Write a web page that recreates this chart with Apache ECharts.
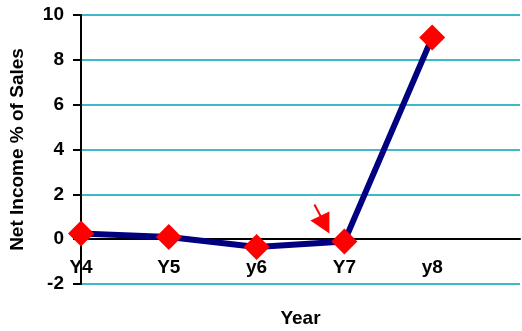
<!DOCTYPE html>
<html>
<head>
<meta charset="utf-8">
<script src="https://cdn.jsdelivr.net/npm/echarts@6/dist/echarts.min.js"></script>
<style>
  html, body { margin: 0; padding: 0; background: #fff; }
  #chart { width: 522px; height: 331px; }
</style>
</head>
<body>
<div id="chart"></div>
<script>
// Net income as a percentage of sales, by year
const years = ['Y4', 'Y5', 'y6', 'Y7', 'y8', ''];
const netIncomePct = [0.25, 0.1, -0.35, -0.1, 9, null];
const yTicks = { min: -2, max: 10, step: 2 };

const FONT = '"Liberation Sans", Arial, sans-serif';

const chart = echarts.init(document.getElementById('chart'), null, { renderer: 'canvas' });

chart.setOption({
  animation: false,
  backgroundColor: '#ffffff',
  grid: { left: 81, right: 2, top: 15, bottom: 47, containLabel: false, outerBoundsMode: 'none' },
  xAxis: {
    type: 'category',
    data: years,
    boundaryGap: false,
    name: 'Year',
    nameLocation: 'middle',
    nameGap: 25,
    nameTextStyle: { fontFamily: FONT, fontWeight: 'bold', fontSize: 19, color: '#000' },
    axisLine: { onZero: true, lineStyle: { color: '#000', width: 2 } },
    axisTick: { show: false },
    axisLabel: { margin: -26, fontFamily: FONT, fontWeight: 'bold', fontSize: 19, color: '#000', interval: 0 },
    splitLine: { show: false }
  },
  yAxis: {
    type: 'value',
    min: yTicks.min,
    max: yTicks.max,
    interval: yTicks.step,
    name: 'Net Income % of Sales',
    nameLocation: 'middle',
    nameRotate: 90,
    nameGap: 54,
    nameTextStyle: { fontFamily: FONT, fontWeight: 'bold', fontSize: 19, color: '#000' },
    axisLine: { show: true, lineStyle: { color: '#000', width: 2 } },
    axisTick: { show: true, length: 8, lineStyle: { color: '#000', width: 2 } },
    axisLabel: { margin: 17, fontFamily: FONT, fontWeight: 'bold', fontSize: 19, color: '#000' },
    splitLine: { show: true, lineStyle: { color: '#40B8CC', width: 2 } }
  },
  series: [{
    type: 'line',
    data: netIncomePct,
    symbol: 'diamond',
    symbolSize: 26,
    lineStyle: { color: '#000080', width: 6 },
    itemStyle: { color: '#FF0000', borderWidth: 0 },
    z: 3
  }]
});

// Small red pointer arrow aimed at the Y7 point
const p = chart.convertToPixel({ xAxisIndex: 0, yAxisIndex: 0 }, [3, netIncomePct[3]]);
chart.setOption({
  graphic: [
    {
      type: 'line',
      shape: { x1: p[0] - 30, y1: p[1] - 37, x2: p[0] - 22, y2: p[1] - 22 },
      style: { stroke: '#FF0000', lineWidth: 2 },
      z: 10
    },
    {
      type: 'polygon',
      shape: { points: [[p[0] - 34, p[1] - 21], [p[0] - 15, p[1] - 30], [p[0] - 15, p[1] - 8]] },
      style: { fill: '#FF0000' },
      z: 10
    }
  ]
});
</script>
</body>
</html>
